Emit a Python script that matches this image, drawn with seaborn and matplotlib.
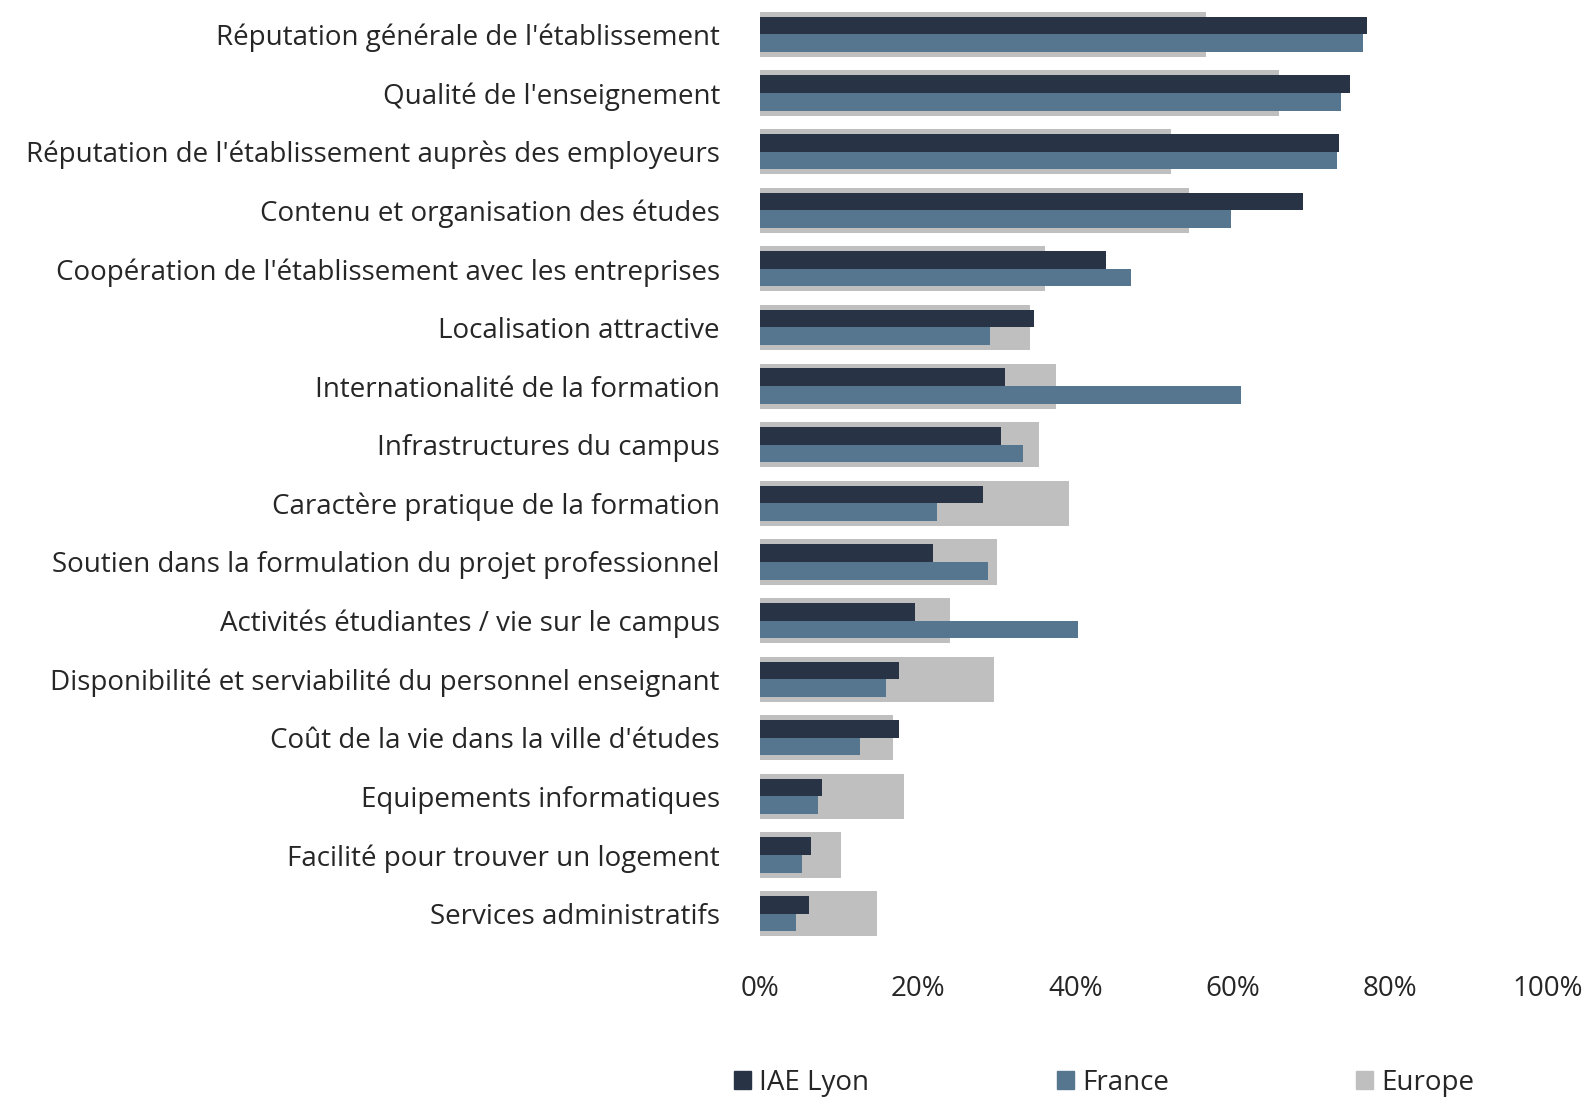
import pandas as pd
import seaborn as sns
import matplotlib.pyplot as plt
from matplotlib.patches import Patch
from matplotlib.ticker import PercentFormatter

# Critères de choix de l'établissement
criteres = [
    "Réputation générale de l'établissement",
    "Qualité de l'enseignement",
    "Réputation de l'établissement auprès des employeurs",
    "Contenu et organisation des études",
    "Coopération de l'établissement avec les entreprises",
    "Localisation attractive",
    "Internationalité de la formation",
    "Infrastructures du campus",
    "Caractère pratique de la formation",
    "Soutien dans la formulation du projet professionnel",
    "Activités étudiantes / vie sur le campus",
    "Disponibilité et serviabilité du personnel enseignant",
    "Coût de la vie dans la ville d'études",
    "Equipements informatiques",
    "Facilité pour trouver un logement",
    "Services administratifs",
]
iae_lyon = [77.0, 74.9, 73.5, 68.9, 43.9, 34.8, 31.1, 30.6, 28.3, 22.0, 19.7, 17.6, 17.6, 7.9, 6.5, 6.2]
france = [76.5, 73.7, 73.2, 59.8, 47.1, 29.2, 61.0, 33.4, 22.5, 28.9, 40.4, 16.0, 12.7, 7.4, 5.3, 4.6]
europe = [56.6, 65.9, 52.2, 54.4, 36.2, 34.3, 37.6, 35.4, 39.2, 30.1, 24.1, 29.7, 16.9, 18.3, 10.2, 14.8]

couleurs = {"IAE Lyon": "#283345", "France": "#56758F", "Europe": "#BFBFBF"}

df_eu = pd.DataFrame({"critere": criteres, "valeur": [v / 100 for v in europe]})
df_in = pd.DataFrame({
    "critere": criteres * 2,
    "valeur": [v / 100 for v in iae_lyon + france],
    "groupe": ["IAE Lyon"] * len(criteres) + ["France"] * len(criteres),
})

sns.set_style("white")
plt.rcParams["font.family"] = ["Open Sans", "DejaVu Sans"]
taille = 20

fig = plt.figure(figsize=(15.87, 10.98), dpi=100)
ax = fig.add_axes([0.479, 0.1412, 0.4964, 0.8542])

# Europe en barre de fond large
sns.barplot(data=df_eu, x="valeur", y="critere", order=criteres, color=couleurs["Europe"],
            width=0.77, saturation=1, ax=ax, errorbar=None, linewidth=0)
# IAE Lyon et France par-dessus
sns.barplot(data=df_in, x="valeur", y="critere", hue="groupe", order=criteres,
            hue_order=["IAE Lyon", "France"], palette=couleurs, width=0.6,
            saturation=1, ax=ax, errorbar=None, legend=False, linewidth=0)

ax.set_xlim(0, 1)
ax.set_ylim(15.5, -0.5)
ax.set_xticks([0, 0.2, 0.4, 0.6, 0.8, 1.0])
ax.xaxis.set_major_formatter(PercentFormatter(1.0, decimals=0))
ax.set_xlabel("")
ax.set_ylabel("")
ax.tick_params(axis="x", length=0, pad=23, labelsize=taille)
ax.tick_params(axis="y", length=0, pad=29, labelsize=taille)
sns.despine(ax=ax, left=True, bottom=True)

handles = [Patch(color=couleurs[k]) for k in ["IAE Lyon", "France", "Europe"]]
fig.legend(handles, ["IAE Lyon", "France", "Europe"], loc="center left",
           bbox_to_anchor=(0.447, 0.014), ncol=3, frameon=False, fontsize=taille,
           handlelength=0.6, handleheight=0.6, handletextpad=0.3, columnspacing=6.75)

fig.savefig("out.png", dpi=100)
